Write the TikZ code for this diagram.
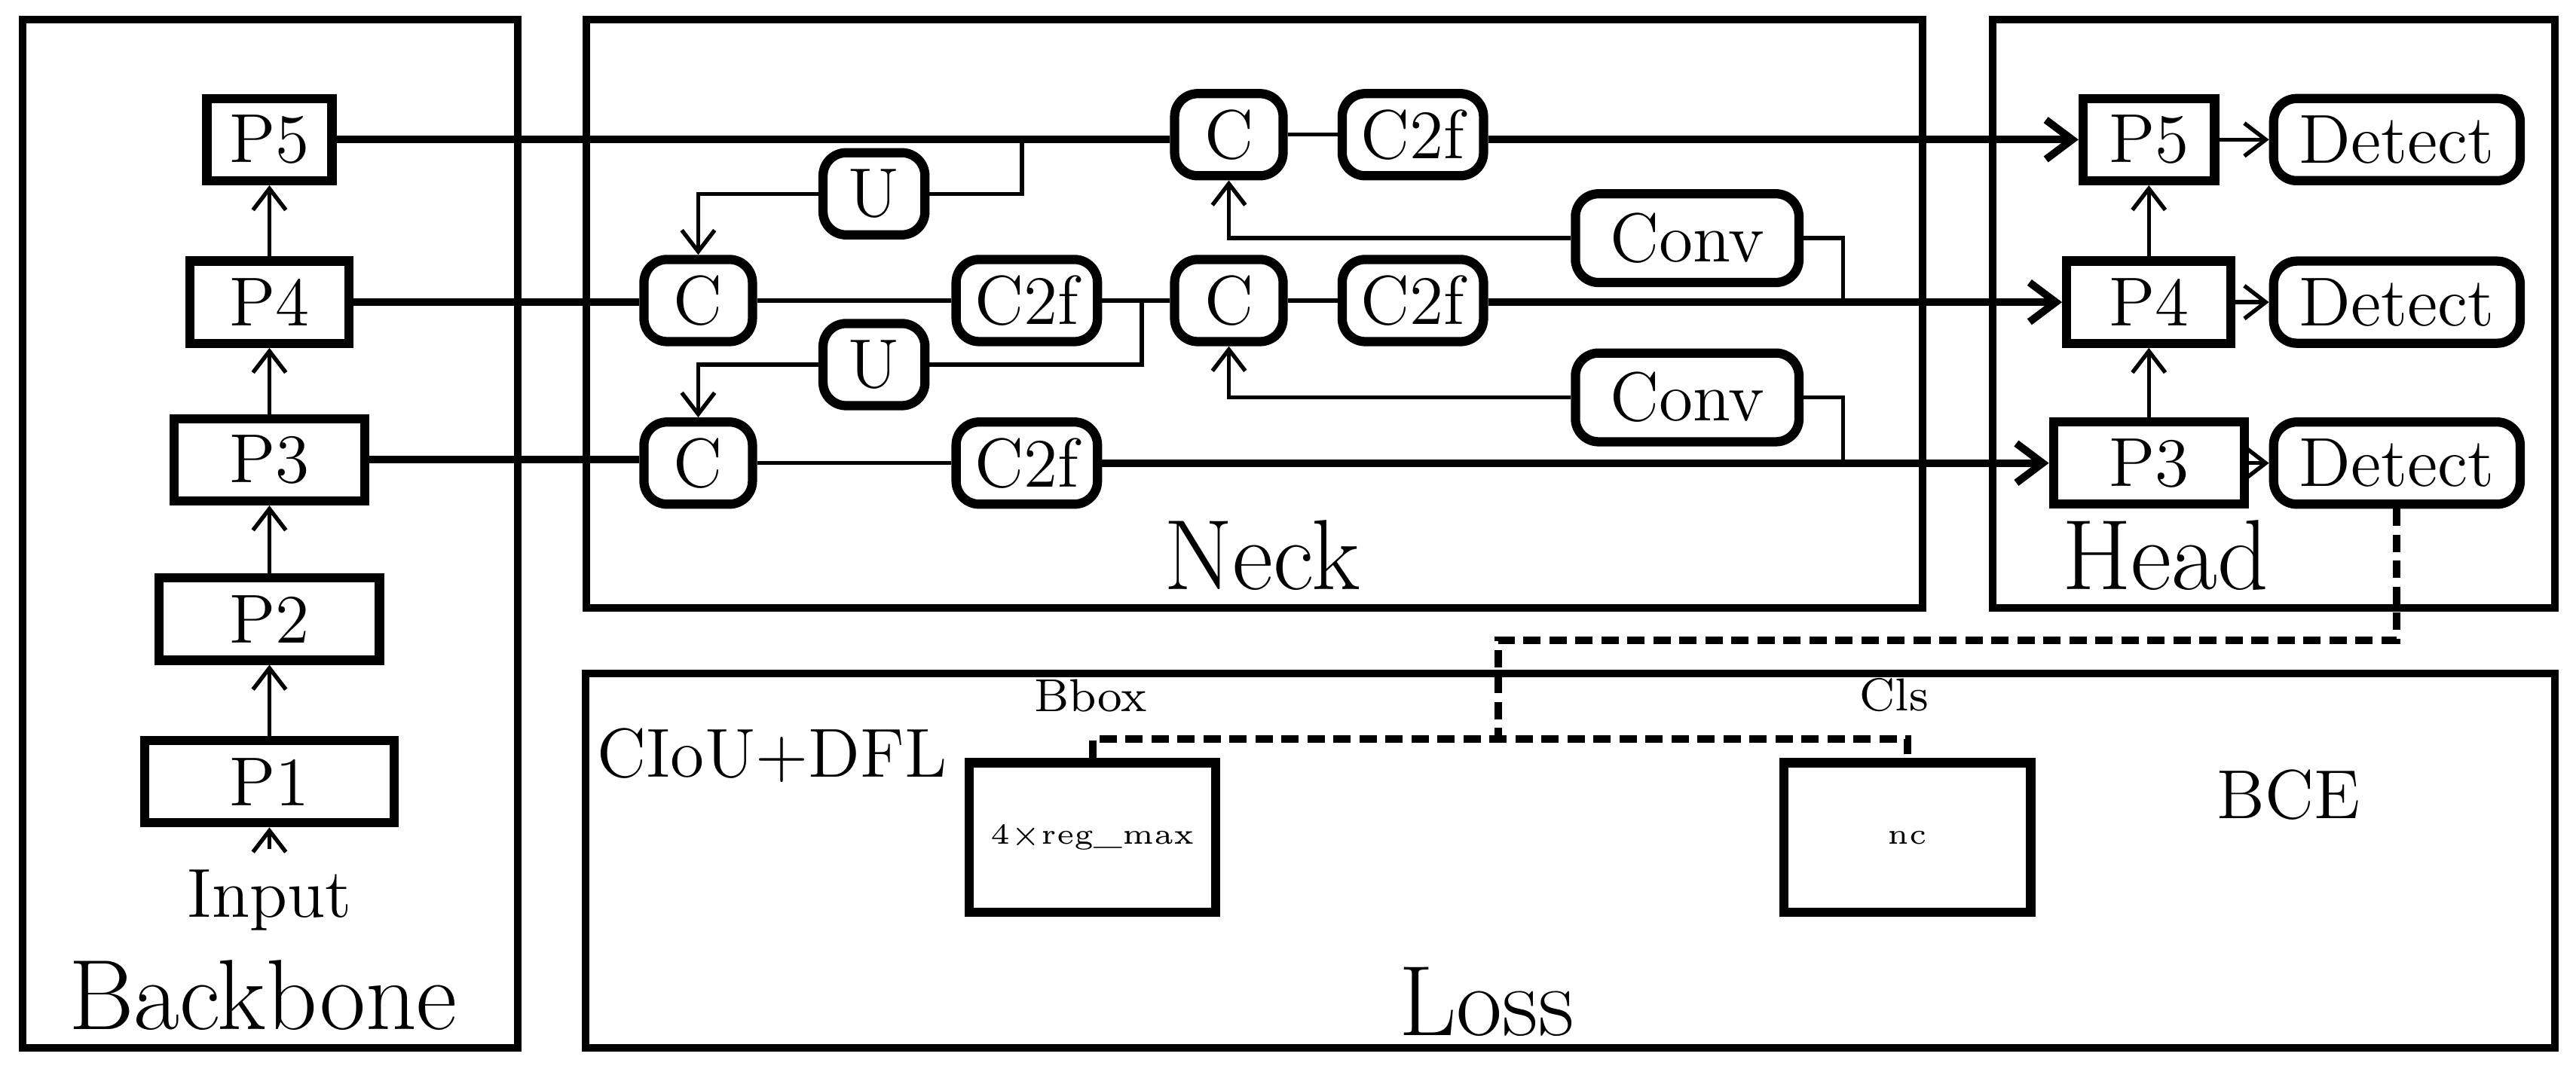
\documentclass[tikz,border=0pt]{standalone}
\usepackage{tikz}
\usetikzlibrary{arrows.meta, positioning, calc}
\tikzset{
    stagebox/.style={rectangle, draw, line width=1.3pt},
    featbox/.style={rectangle, draw, line width=1.6pt, minimum height=0.5cm, inner sep=1pt, font=\large},
    opbox/.style={rectangle, rounded corners=4pt, draw, line width=1.6pt, minimum height=0.5cm, inner sep=1pt, font=\large},
    outbox/.style={rectangle, draw, line width=1.6pt, minimum width=1.5cm, minimum height=0.91cm, font=\tiny},
    mainline/.style={line width=1.3pt},
    thinline/.style={line width=0.7pt},
    arrow/.style={-{Straight Barb[length=1.3mm, width=2mm]}, line width=0.7pt},
    mainarrow/.style={-{Straight Barb[length=1.6mm, width=2.4mm]}, line width=1.3pt},
    dashline/.style={line width=1.3pt, dash pattern=on 3pt off 1.5pt},
}

\begin{document}
\begin{tikzpicture}[x=0.01cm, y=-0.01cm]
    \useasboundingbox (0,0) rectangle (1568,656);

    % Stage frames
    \node[stagebox, minimum width=3.01cm, minimum height=6.26cm] (backbone) at (164.5,325) {};
    \node[stagebox, minimum width=8.13cm, minimum height=3.58cm] (neck) at (763.5,191) {};
    \node[stagebox, minimum width=3.42cm, minimum height=3.58cm] (head) at (1384,191) {};
    \node[stagebox, minimum width=11.98cm, minimum height=2.28cm] (loss) at (956,524) {};
    \node[font=\LARGE] (backbonelbl) at (160,606) {Backbone};
    \node[font=\LARGE] (necklbl) at (768,338) {Neck};
    \node[font=\LARGE] (headlbl) at (1318,338) {Head};
    \node[font=\LARGE] (losslbl) at (905,610) {Loss};

    % Backbone
    \node[featbox, minimum width=0.76cm] (p5) at (164,85) {P5};
    \node[featbox, minimum width=0.97cm] (p4) at (164,184) {P4};
    \node[featbox, minimum width=1.16cm] (p3) at (164,280) {P3};
    \node[featbox, minimum width=1.34cm] (p2) at (164,377) {P2};
    \node[featbox, minimum width=1.52cm] (p1) at (164,476) {P1};
    \node[font=\large] (input) at (164,548) {Input};
    \draw[arrow] (input) -- (p1);
    \draw[arrow] (p1) -- (p2);
    \draw[arrow] (p2) -- (p3);
    \draw[arrow] (p3) -- (p4);
    \draw[arrow] (p4) -- (p5);

    % Neck
    \node[opbox, minimum width=0.66cm] (ctop) at (748,82) {C};
    \node[opbox, minimum width=0.86cm] (ftop) at (860,82) {C2f};
    \node[opbox, minimum width=0.62cm] (uone) at (532,118) {U};
    \node[opbox, minimum width=1.36cm, minimum height=0.54cm] (convone) at (1027,145) {Conv};
    \node[opbox, minimum width=0.66cm] (cmidl) at (425,183) {C};
    \node[opbox, minimum width=0.86cm] (fmidl) at (625,183) {C2f};
    \node[opbox, minimum width=0.66cm] (cmidr) at (748,183) {C};
    \node[opbox, minimum width=0.86cm] (fmidr) at (860,183) {C2f};
    \node[opbox, minimum width=0.62cm] (utwo) at (532,222) {U};
    \node[opbox, minimum width=1.36cm, minimum height=0.54cm] (convtwo) at (1027,242) {Conv};
    \node[opbox, minimum width=0.66cm] (clow) at (425,282) {C};
    \node[opbox, minimum width=0.86cm] (flow) at (625,282) {C2f};

    % Head
    \node[featbox, minimum width=0.80cm] (hp5) at (1308,85) {P5};
    \node[featbox, minimum width=1.00cm] (hp4) at (1308,184) {P4};
    \node[featbox, minimum width=1.16cm] (hp3) at (1308,282) {P3};
    \node[opbox, minimum width=1.50cm] (det5) at (1459,85) {Detect};
    \node[opbox, minimum width=1.50cm] (det4) at (1459,184) {Detect};
    \node[opbox, minimum width=1.50cm] (det3) at (1459,282) {Detect};

    % Top path
    \coordinate (jtop) at (622,85);
    \draw[mainline] (p5) -- (ctop.west |- p5);
    \draw[thinline] (ctop) -- (ftop);
    \draw[mainarrow] (ftop.east |- hp5) -- (hp5);
    \draw[thinline] (jtop) |- (uone);
    \draw[arrow] (uone) -| (cmidl.north);
    \draw[arrow] (convone) -| (ctop.south);
    \draw[thinline] (convone.east) -| (1122,184);

    % Middle path
    \coordinate (jmid) at (695,183);
    \draw[mainline] (p4) -- (cmidl.west |- p4);
    \draw[thinline] (cmidl) -- (fmidl);
    \draw[thinline] (fmidl) -- (cmidr);
    \draw[thinline] (cmidr) -- (fmidr);
    \draw[mainarrow] (fmidr.east |- hp4) -- (hp4);
    \draw[thinline] (jmid) |- (utwo);
    \draw[arrow] (utwo) -| (clow.north);
    \draw[arrow] (convtwo) -| (cmidr.south);
    \draw[thinline] (convtwo.east) -| (1122,282);

    % Bottom path
    \draw[mainline] (p3) -- (clow.west |- p3);
    \draw[thinline] (clow) -- (flow);
    \draw[mainarrow] (flow) -- (hp3);

    % Head links
    \draw[arrow] (hp3) -- (hp4);
    \draw[arrow] (hp4) -- (hp5);
    \draw[arrow] (hp5) -- (det5);
    \draw[arrow] (hp4) -- (det4);
    \draw[arrow] (hp3) -- (det3);

    % Loss
    \node[outbox] (bbox) at (665,510) {4$\times$reg\_max};
    \node[outbox] (cls) at (1161,510) {nc};
    \node[font=\footnotesize, anchor=south] (bboxlbl) at (664,446) {Bbox};
    \node[font=\footnotesize, anchor=south] (clslbl) at (1153,446) {Cls};
    \node[font=\large] (ciou) at (470,460) {CIoU+DFL};
    \node[font=\large] (bce) at (1393,484) {BCE};
    \coordinate (split) at (912,450);
    \draw[dashline] (det3.south) |- (912,390) -- (split);
    \draw[dashline] (bbox.north) |- (split) -| (cls.north);
\end{tikzpicture}
\end{document}
